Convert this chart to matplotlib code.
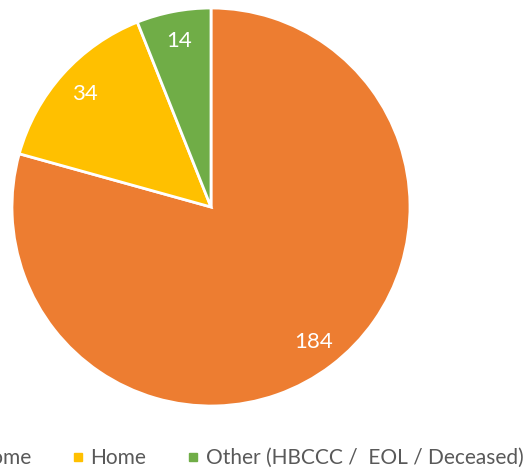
import matplotlib
matplotlib.use('Agg')
from matplotlib import pyplot as plt
from matplotlib.lines import Line2D

labels = ['Care Home', 'Home', 'Other (HBCCC /  EOL / Deceased)']
values = [184, 34, 14]
colors = ['#ED7D31', '#FFC000', '#70AD47']

plt.rcParams['font.family'] = ['Lato', 'DejaVu Sans']

W, H = 528, 471
fig = plt.figure(figsize=(W / 100, H / 100), dpi=100)

# pie centre (211, 207) px from top-left, radius ~199 px
cx, cy, r = 211, 207, 199
ax = fig.add_axes([(cx - r) / W, (H - cy - r) / H, 2 * r / W, 2 * r / H])
wedges, texts = ax.pie(values, colors=colors, startangle=90, counterclock=False,
                       radius=1, labels=[str(v) for v in values], labeldistance=0.85,
                       wedgeprops=dict(edgecolor='white', linewidth=2),
                       textprops=dict(color='white', fontsize=16))
for t in texts:
    t.set_ha('center')
    t.set_va('center')
ax.set_xlim(-1, 1)
ax.set_ylim(-1, 1)
ax.axis('off')

handles = [Line2D([], [], marker='s', linestyle='none', markersize=6,
                  markerfacecolor=c, markeredgecolor=c) for c in colors]
leg = fig.legend(handles, labels, loc='center left', ncol=3, frameon=False,
                 bbox_to_anchor=(-92 / W, 13 / H), fontsize=15,
                 handlelength=0.6, handletextpad=0.3, columnspacing=1.95,
                 borderpad=0, borderaxespad=0)
for t in leg.get_texts():
    t.set_color('#595959')

fig.savefig('out.png', dpi=100)
